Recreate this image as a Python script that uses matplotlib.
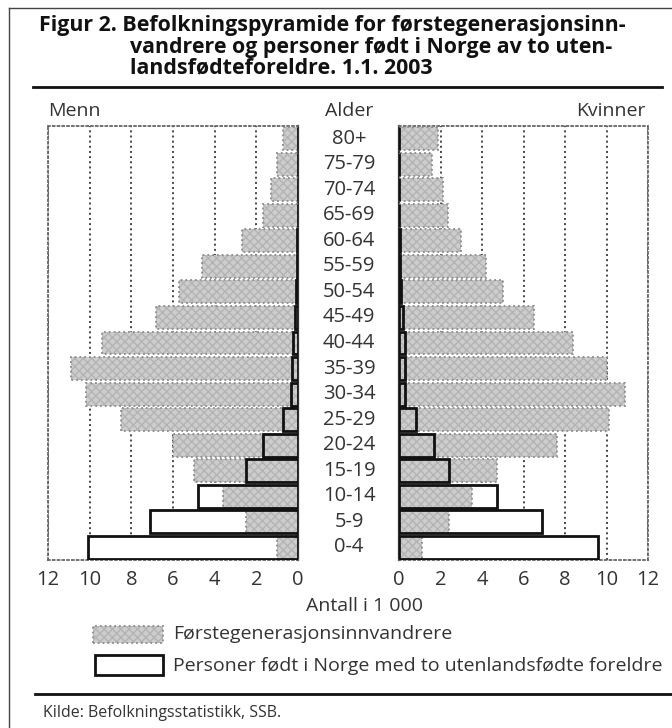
import numpy as np
import matplotlib.pyplot as plt
from matplotlib.patches import Rectangle
from matplotlib.lines import Line2D
from matplotlib.transforms import blended_transform_factory

plt.rcParams['font.family'] = ['Open Sans', 'DejaVu Sans']

W, H = 672, 728

ages = ["0-4", "5-9", "10-14", "15-19", "20-24", "25-29", "30-34", "35-39",
        "40-44", "45-49", "50-54", "55-59", "60-64", "65-69", "70-74", "75-79", "80+"]
# antall i 1 000
menn_innv = [1.0, 2.5, 3.6, 5.0, 6.0, 8.5, 10.2, 10.9, 9.4, 6.8, 5.7, 4.6, 2.7, 1.7, 1.3, 1.0, 0.7]
menn_norge = [10.1, 7.1, 4.8, 2.5, 1.7, 0.7, 0.35, 0.3, 0.25, 0.15, 0.1, 0.05, 0.03, 0.02, 0.02, 0.01, 0.01]
kvinner_innv = [1.1, 2.4, 3.5, 4.7, 7.6, 10.1, 10.9, 10.0, 8.4, 6.5, 5.0, 4.2, 3.0, 2.35, 2.1, 1.6, 1.9]
kvinner_norge = [9.6, 6.9, 4.7, 2.4, 1.7, 0.8, 0.3, 0.3, 0.3, 0.2, 0.1, 0.05, 0.03, 0.02, 0.02, 0.01, 0.01]
ticks = [0, 2, 4, 6, 8, 10, 12]

txt = '#333333'
gray = '#cdcdcd'
fs = 14


def fx(x):
    return x / W


def fy(y):
    return 1 - y / H


fig = plt.figure(figsize=(W / 100, H / 100), dpi=100)

ax_m = fig.add_axes([fx(48), fy(560), 250 / W, 434 / H])
ax_k = fig.add_axes([fx(399), fy(560), 249 / W, 434 / H])

y = np.arange(len(ages))
h = 0.9

for ax, innv, norge in [(ax_m, menn_innv, menn_norge), (ax_k, kvinner_innv, kvinner_norge)]:
    ax.barh(y, norge, height=h, color='white', edgecolor='none', zorder=2)
    ax.barh(y, innv, height=h, color=gray, hatch='xxxx', edgecolor='#b4b4b4', linewidth=0, zorder=3)
    ax.barh(y, innv, height=h, fill=False, edgecolor='#8a8a8a', linestyle=':', linewidth=1.3, zorder=3)
    ax.barh(y, norge, height=h, fill=False, edgecolor='#111111', linewidth=2, zorder=4)
    ax.set_ylim(-0.5, len(ages) - 0.5)
    ax.set_yticks([])
    ax.set_xticks(ticks)
    ax.tick_params(axis='x', length=0, pad=7, labelsize=14.5, labelcolor=txt)
    ax.grid(axis='x', linestyle=':', color='#444444', linewidth=1.4, zorder=0)
    ax.set_axisbelow(True)
    for s in ax.spines.values():
        s.set_linestyle(':')
        s.set_color('#666666')
        s.set_linewidth(1.3)

ax_m.set_xlim(12, 0)
ax_k.set_xlim(0, 12)
ax_m.spines['right'].set_linestyle('-')
ax_m.spines['right'].set_color('#333333')
ax_m.spines['right'].set_linewidth(1.6)
ax_k.spines['left'].set_linestyle('-')
ax_k.spines['left'].set_color('#333333')
ax_k.spines['left'].set_linewidth(1.6)

# aldersgrupper i midten
tr = blended_transform_factory(fig.transFigure, ax_m.transData)
for i, a in enumerate(ages):
    fig.text(fx(349), i, a, transform=tr, ha='center', va='center', fontsize=14.5, color=txt)

# overskrift
fig.text(fx(39), fy(25), "Figur 2. Befolkningspyramide for førstegenerasjonsinn-",
         fontsize=15.4, fontweight='bold', color='#111111', va='center')
fig.text(fx(130), fy(47), "vandrere og personer født i Norge av to uten-",
         fontsize=15.4, fontweight='bold', color='#111111', va='center')
fig.text(fx(130), fy(68), "landsfødteforeldre. 1.1. 2003",
         fontsize=15.4, fontweight='bold', color='#111111', va='center')

fig.text(fx(48), fy(111), "Menn", fontsize=fs, color=txt, va='center')
fig.text(fx(349), fy(111), "Alder", fontsize=fs, color=txt, va='center', ha='center')
fig.text(fx(646), fy(111), "Kvinner", fontsize=fs, color=txt, va='center', ha='right')
fig.text(fx(365), fy(606), "Antall i 1 000", fontsize=fs, color=txt, va='center', ha='center')

# forklaring
fig.add_artist(Rectangle((fx(93), fy(643)), 70 / W, 17 / H, transform=fig.transFigure,
                         facecolor=gray, hatch='xxxx', edgecolor='#b4b4b4', linewidth=0))
fig.add_artist(Rectangle((fx(93), fy(643)), 70 / W, 17 / H, transform=fig.transFigure,
                         fill=False, edgecolor='#8a8a8a', linestyle=':', linewidth=1.3))
fig.add_artist(Rectangle((fx(95), fy(675)), 68 / W, 20 / H, transform=fig.transFigure,
                         facecolor='white', edgecolor='#111111', linewidth=2))
fig.text(fx(173), fy(634), "Førstegenerasjonsinnvandrere", fontsize=fs, color=txt, va='center')
fig.text(fx(173), fy(666), "Personer født i Norge med to utenlandsfødte foreldre",
         fontsize=fs, color=txt, va='center')

# linjer og ramme
fig.add_artist(Line2D([fx(9), 1], [fy(8), fy(8)], color='#444444', linewidth=1))
fig.add_artist(Line2D([fx(9), fx(9)], [fy(8), 0], color='#444444', linewidth=1))
fig.add_artist(Line2D([fx(33), fx(662)], [fy(87), fy(87)], color='#111111', linewidth=2))
fig.add_artist(Line2D([fx(35), 1], [fy(694), fy(694)], color='#111111', linewidth=2))

fig.text(fx(43), fy(713), "Kilde: Befolkningsstatistikk, SSB.", fontsize=11.5, color=txt, va='center')

plt.savefig('out.png', dpi=100)
